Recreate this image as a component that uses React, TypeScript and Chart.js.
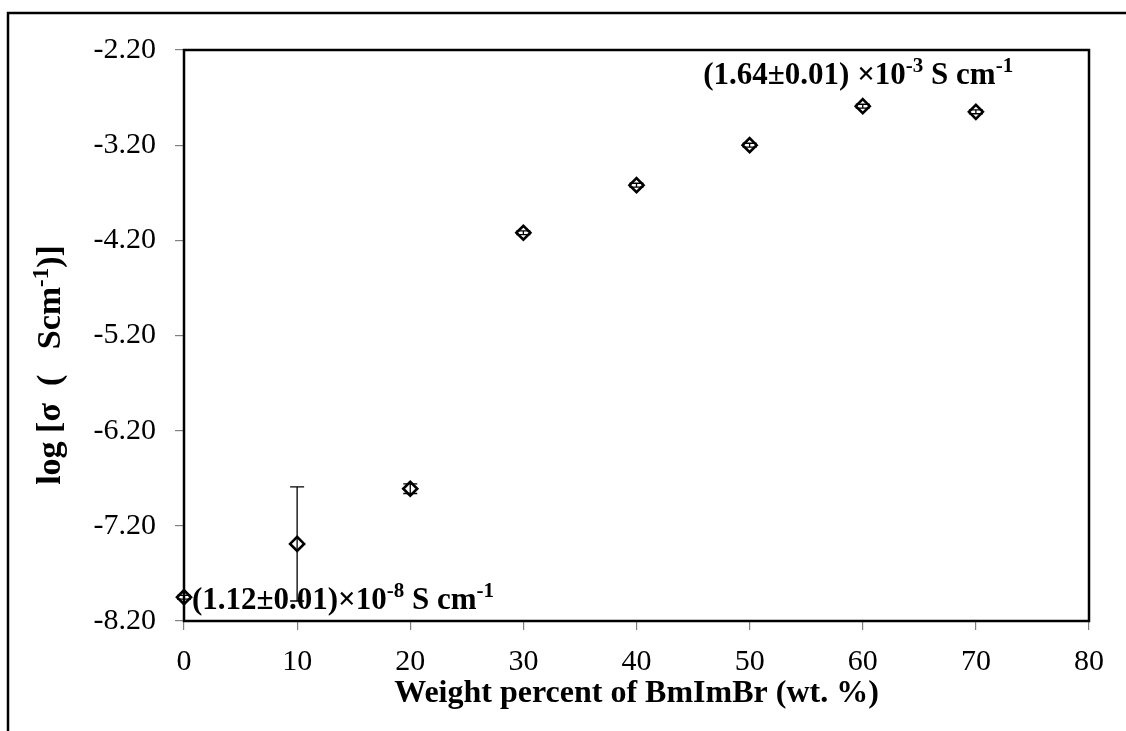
import React, { useEffect, useRef } from "react";
import { Chart, registerables } from "chart.js";

Chart.register(...registerables);

const wtPercent = [0, 10, 20, 30, 40, 50, 60, 70];
const logSigma = [-7.95, -7.39, -6.81, -4.12, -3.62, -3.2, -2.79, -2.85];
const errors = [0.02, 0.6, 0.05, 0.02, 0.02, 0.02, 0.02, 0.02];

const xTitle = "Weight percent of BmImBr (wt. %)";
const yTitleParts = [
  { t: "log [σ  (   Scm", sup: false },
  { t: "-1", sup: true },
  { t: ")]", sup: false },
];
const lowAnnotation = [
  { t: "(1.12±0.01)×10", sup: false },
  { t: "-8", sup: true },
  { t: " S cm", sup: false },
  { t: "-1", sup: true },
];
const highAnnotation = [
  { t: "(1.64±0.01) ×10", sup: false },
  { t: "-3", sup: true },
  { t: " S cm", sup: false },
  { t: "-1", sup: true },
];
// annotation anchors in data units
const lowAnchor = { x: 0.7, y: -8.07 };
const highAnchor = { x: 45.9, y: -2.553 };

const FONT = '"Liberation Serif", "Times New Roman", serif';

type Seg = { t: string; sup: boolean };

function drawRich(ctx: CanvasRenderingContext2D, segs: Seg[], x: number, y: number, size: number, align: "left" | "center") {
  const main = `bold ${size}px ${FONT}`;
  const sub = `bold ${Math.round(size * 0.68)}px ${FONT}`;
  let total = 0;
  for (const s of segs) {
    ctx.font = s.sup ? sub : main;
    total += ctx.measureText(s.t).width;
  }
  let cx = align === "center" ? x - total / 2 : x;
  ctx.textBaseline = "alphabetic";
  ctx.textAlign = "left";
  ctx.fillStyle = "#000";
  for (const s of segs) {
    ctx.font = s.sup ? sub : main;
    ctx.fillText(s.t, cx, s.sup ? y - size * 0.36 : y);
    cx += ctx.measureText(s.t).width;
  }
}

const decorPlugin = {
  id: "decor",
  beforeDatasetsDraw(chart: any) {
    const ctx = chart.ctx as CanvasRenderingContext2D;
    const xs = chart.scales.x;
    const ys = chart.scales.y;
    ctx.save();
    ctx.strokeStyle = "#000";
    ctx.lineWidth = 1.3;
    wtPercent.forEach((w, i) => {
      const px = xs.getPixelForValue(w);
      const top = ys.getPixelForValue(logSigma[i] + errors[i]);
      const bot = ys.getPixelForValue(logSigma[i] - errors[i]);
      ctx.beginPath();
      ctx.moveTo(px, top);
      ctx.lineTo(px, bot);
      ctx.moveTo(px - 7, top);
      ctx.lineTo(px + 7, top);
      ctx.moveTo(px - 7, bot);
      ctx.lineTo(px + 7, bot);
      ctx.stroke();
    });
    ctx.restore();
  },
  afterDraw(chart: any) {
    const ctx = chart.ctx as CanvasRenderingContext2D;
    const a = chart.chartArea;
    const xs = chart.scales.x;
    const ys = chart.scales.y;
    ctx.save();
    // plot border
    ctx.strokeStyle = "#000";
    ctx.lineWidth = 2.5;
    ctx.strokeRect(a.left, a.top, a.right - a.left, a.bottom - a.top);
    // outer frame (top and left)
    ctx.beginPath();
    ctx.moveTo(8, 731);
    ctx.lineTo(8, 13);
    ctx.lineTo(1126, 13);
    ctx.stroke();
    // titles
    drawRich(ctx, [{ t: xTitle, sup: false }], (a.left + a.right) / 2, 702, 32, "center");
    ctx.save();
    ctx.translate(60, 365);
    ctx.rotate(-Math.PI / 2);
    drawRich(ctx, yTitleParts, 0, 0, 34, "center");
    ctx.restore();
    // annotations
    drawRich(ctx, lowAnnotation, xs.getPixelForValue(lowAnchor.x), ys.getPixelForValue(lowAnchor.y), 31, "left");
    drawRich(ctx, highAnnotation, xs.getPixelForValue(highAnchor.x), ys.getPixelForValue(highAnchor.y), 31, "left");
    ctx.restore();
  },
};

export default function App() {
  const ref = useRef<HTMLCanvasElement | null>(null);
  useEffect(() => {
    if (!ref.current) return;
    const chart = new Chart(ref.current, {
      type: "scatter",
      data: {
        datasets: [
          {
            data: wtPercent.map((w, i) => ({ x: w, y: logSigma[i] })),
            pointStyle: "rectRot",
            pointRadius: 7,
            pointBorderWidth: 2.6,
            pointBorderColor: "#000",
            pointBackgroundColor: "rgba(255,255,255,0)",
            showLine: false,
            clip: false,
          },
        ],
      },
      plugins: [decorPlugin],
      options: {
        responsive: false,
        animation: false,
        layout: { padding: { left: 0, top: 50, right: 37, bottom: 0 } },
        plugins: { legend: { display: false }, tooltip: { enabled: false } },
        scales: {
          x: {
            type: "linear",
            min: 0,
            max: 80,
            afterFit: (s: any) => {
              s.height = 110;
            },
            ticks: {
              stepSize: 10,
              color: "#000",
              padding: 14,
              maxRotation: 0,
              font: { family: FONT, size: 30 },
            },
            grid: { drawOnChartArea: false, drawTicks: true, tickLength: 9, tickColor: "#808080", lineWidth: 1.2 },
            border: { display: false },
          },
          y: {
            type: "linear",
            min: -8.2,
            max: -2.2,
            afterFit: (s: any) => {
              s.width = 184;
            },
            ticks: {
              stepSize: 1,
              color: "#000",
              padding: 19,
              font: { family: FONT, size: 30 },
              callback: (v: any) => Number(v).toFixed(2),
            },
            grid: { drawOnChartArea: false, drawTicks: true, tickLength: 9, tickColor: "#808080", lineWidth: 1.2 },
            border: { display: false },
          },
        },
      },
    });
    return () => chart.destroy();
  }, []);
  return (
    <div style={{ position: "absolute", left: 0, top: 0, width: 1126, height: 731, background: "#fff" }}>
      <canvas ref={ref} width={1126} height={731} style={{ display: "block" }} />
    </div>
  );
}
